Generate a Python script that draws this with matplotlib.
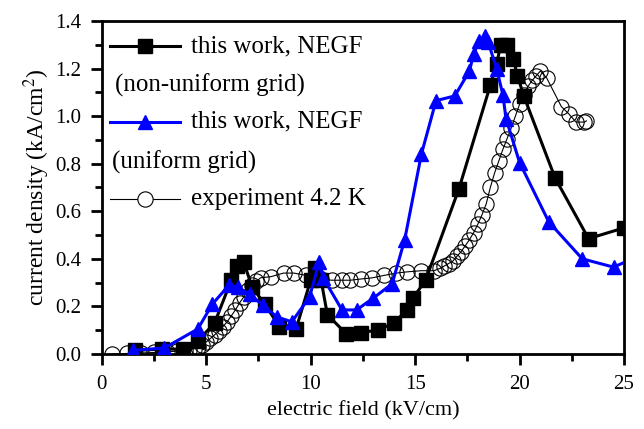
import matplotlib
matplotlib.use('Agg')
import matplotlib.pyplot as plt
from matplotlib.ticker import MultipleLocator

plt.rcParams['font.family'] = 'Liberation Serif'
plt.rcParams['mathtext.fontset'] = 'stix'

# NEGF, non-uniform grid (black squares)
field_nonuni = [1.6, 2.9, 3.9, 4.6, 5.4, 6.2, 6.45, 6.8, 7.2, 7.8, 8.5, 9.3, 10.0, 10.2, 10.5,
                10.8, 11.7, 12.4, 13.2, 14.0, 14.6, 14.9, 15.5, 17.1, 18.6, 18.9, 19.1, 19.4,
                19.7, 19.9, 20.2, 21.7, 23.3, 25.0]
j_nonuni = [0.015, 0.02, 0.02, 0.055, 0.13, 0.31, 0.37, 0.385, 0.28, 0.21, 0.115, 0.105, 0.31,
            0.36, 0.31, 0.165, 0.085, 0.09, 0.10, 0.13, 0.185, 0.235, 0.31, 0.695, 1.13, 1.22,
            1.30, 1.30, 1.24, 1.17, 1.085, 0.74, 0.485, 0.53]

# NEGF, uniform grid (blue triangles)
field_uni = [1.5, 3.0, 4.6, 5.3, 6.1, 6.5, 7.1, 7.7, 8.4, 9.1, 9.95, 10.4, 10.6, 11.5, 12.2,
             13.0, 13.9, 14.5, 15.3, 16.0, 16.9, 17.6, 17.8, 18.05, 18.35, 18.5, 18.9, 19.2,
             19.35, 20.0, 21.4, 23.0, 24.5, 25.4]
j_uni = [0.015, 0.025, 0.105, 0.21, 0.29, 0.28, 0.25, 0.205, 0.155, 0.135, 0.24, 0.385, 0.32,
         0.185, 0.185, 0.235, 0.295, 0.48, 0.84, 1.065, 1.085, 1.19, 1.26, 1.315, 1.335, 1.31,
         1.20, 1.09, 0.99, 0.805, 0.555, 0.40, 0.365, 0.40]

# experiment 4.2 K (open circles)
field_exp = [0.5, 1.2, 1.9, 2.5, 3.1, 3.6, 4.0, 4.2, 4.4, 4.6, 4.8, 5.0, 5.2, 5.4, 5.6, 5.8,
             6.0, 6.2, 6.4, 6.6, 6.8, 7.0, 7.2, 7.4, 7.6, 8.1, 8.7, 9.2, 9.8, 10.5, 11.0, 11.5,
             11.9, 12.4, 12.95, 13.5, 14.1, 14.6, 15.3, 15.9, 16.2, 16.4, 16.6, 16.8, 17.0,
             17.2, 17.4, 17.6, 17.8, 18.0, 18.2, 18.4, 18.6, 18.8, 19.0, 19.2, 19.4, 19.6,
             19.8, 20.0, 20.2, 20.4, 20.6, 20.8, 21.0, 21.3, 22.0, 22.35, 22.7, 23.1, 23.2]
j_exp = [0.0, 0.002, 0.004, 0.006, 0.008, 0.012, 0.015, 0.018, 0.022, 0.03, 0.038, 0.05, 0.065,
         0.08, 0.095, 0.115, 0.135, 0.16, 0.185, 0.215, 0.24, 0.27, 0.29, 0.305, 0.32, 0.325,
         0.34, 0.34, 0.33, 0.315, 0.31, 0.31, 0.31, 0.315, 0.32, 0.33, 0.34, 0.345, 0.35, 0.35,
         0.36, 0.37, 0.38, 0.39, 0.41, 0.43, 0.455, 0.48, 0.51, 0.545, 0.585, 0.63, 0.70, 0.76,
         0.81, 0.86, 0.905, 0.95, 1.0, 1.05, 1.09, 1.125, 1.15, 1.17, 1.19, 1.16, 1.04, 1.01,
         0.975, 0.975, 0.98]

fig = plt.figure(figsize=(6.44, 4.29), dpi=100)
ax = fig.add_axes([0.158, 0.175, 0.811, 0.776])

ax.plot(field_exp, j_exp, color='black', lw=0.8, marker='o', ms=11,
        mfc='none', mec='black', mew=0.8, zorder=2)
ax.plot(field_nonuni, j_nonuni, color='black', lw=2.2, marker='s', ms=10.5, zorder=3)
ax.plot(field_uni, j_uni, color='blue', lw=2.2, marker='^', ms=10.5, zorder=4)

ax.set_xlim(0, 25)
ax.set_ylim(0, 1.4)
ax.xaxis.set_major_locator(MultipleLocator(5))
ax.xaxis.set_minor_locator(MultipleLocator(2.5))
ax.yaxis.set_major_locator(MultipleLocator(0.2))
ax.yaxis.set_minor_locator(MultipleLocator(0.1))
ax.yaxis.set_major_formatter(plt.FormatStrFormatter('%.1f'))
ax.tick_params(which='both', direction='out', width=2, labelsize=15, top=False, right=False)
ax.tick_params(which='major', length=8, pad=7)
ax.tick_params(which='minor', length=5)
for s in ax.spines.values():
    s.set_linewidth(2)

ax.set_xlabel('electric field (kV/cm)', fontsize=16, labelpad=5)
ax.set_ylabel('current density (kA/cm$^2$)', fontsize=17, labelpad=2)

# legend drawn by hand, second lines start under the handles
tr = ax.transAxes
fs = 18
ax.plot([0.015, 0.149], [0.925, 0.925], transform=tr, color='black', lw=2.2, clip_on=False)
ax.plot([0.082], [0.925], transform=tr, color='black', marker='s', ms=10.5, clip_on=False)
ax.text(0.170, 0.925, 'this work, NEGF', transform=tr, fontsize=fs, va='center')
ax.text(0.025, 0.808, '(non-uniform grid)', transform=tr, fontsize=fs, va='center')
ax.plot([0.015, 0.149], [0.697, 0.697], transform=tr, color='blue', lw=2.2, clip_on=False)
ax.plot([0.082], [0.697], transform=tr, color='blue', marker='^', ms=10.5, clip_on=False)
ax.text(0.170, 0.697, 'this work, NEGF', transform=tr, fontsize=fs, va='center')
ax.text(0.020, 0.577, '(uniform grid)', transform=tr, fontsize=fs, va='center')
ax.plot([0.015, 0.149], [0.465, 0.465], transform=tr, color='black', lw=0.8, clip_on=False)
ax.plot([0.082], [0.465], transform=tr, color='black', marker='o', ms=11, mfc='white',
        mew=0.8, clip_on=False)
ax.text(0.170, 0.465, 'experiment 4.2 K', transform=tr, fontsize=fs, va='center')

fig.savefig('out.png', dpi=100)
